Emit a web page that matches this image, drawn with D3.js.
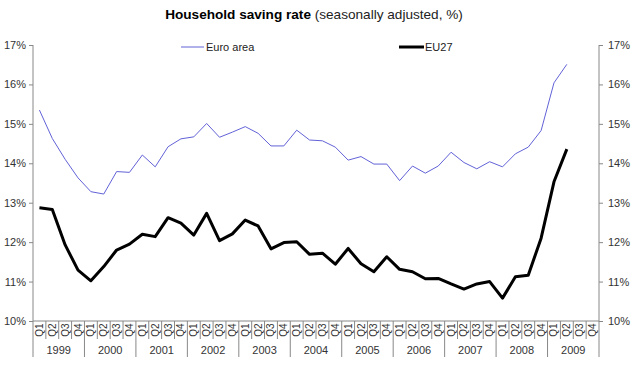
<!DOCTYPE html>
<html>
<head>
<meta charset="utf-8">
<script src="https://cdn.jsdelivr.net/npm/d3@7"></script>
<style>
  body { margin: 0; background: #fff; }
  svg { font-family: "Liberation Sans", Arial, sans-serif; }
</style>
</head>
<body>
<svg width="640" height="369"></svg>
<script>
// data
const years = ["1999","2000","2001","2002","2003","2004","2005","2006","2007","2008","2009"];
const quarters = ["Q1","Q2","Q3","Q4"];
const euroArea = [15.35,14.63,14.1,13.63, 13.28,13.22,13.79,13.77, 14.21,13.91,14.42,14.62,
  14.67,15.01,14.66,14.79, 14.93,14.76,14.44,14.44, 14.84,14.59,14.57,14.41,
  14.08,14.17,13.98,13.98, 13.56,13.93,13.75,13.93, 14.28,14.02,13.86,14.04,
  13.91,14.24,14.41,14.83, 16.04,16.51];
const eu27 = [12.87,12.83,11.93,11.29, 11.02,11.38,11.80,11.95, 12.20,12.14,12.62,12.48,
  12.18,12.73,12.04,12.21, 12.56,12.41,11.83,11.99, 12.01,11.69,11.72,11.44,
  11.84,11.45,11.25,11.63, 11.31,11.25,11.07,11.08, 10.94,10.81,10.94,11.00,
  10.58,11.12,11.16,12.10, 13.53,14.36];
const yTicks = [10,11,12,13,14,15,16,17];

const svg = d3.select("svg");
const plotL = 33, plotR = 599, plotT = 45, plotB = 321;
const axisColor = "#888";

// categories
const cats = [];
years.forEach(yr => quarters.forEach(q => cats.push(yr + "-" + q)));

const x = d3.scaleBand().domain(cats).range([plotL, plotR]);
const y = d3.scaleLinear().domain([10, 17]).range([plotB, plotT]);

// title
const title = svg.append("text")
  .attr("x", 314).attr("y", 19)
  .attr("text-anchor", "middle")
  .attr("font-size", "13.6px")
  .attr("fill", "#000");
title.append("tspan").attr("font-weight", "bold").text("Household saving rate");
title.append("tspan").attr("fill", "#222").text(" (seasonally adjusted, %)");

// y axes
const yLeft = d3.axisLeft(y).tickValues(yTicks).tickSize(4).tickPadding(3)
  .tickFormat(d => d + "%");
const yRight = d3.axisRight(y).tickValues(yTicks).tickSize(4).tickPadding(5)
  .tickFormat(d => d + "%");

function styleAxis(g) {
  g.select(".domain").remove();
  g.selectAll("line").attr("stroke", axisColor);
  g.selectAll("text").attr("font-size", "11px").attr("fill", "#333")
    .attr("font-family", "Liberation Sans, Arial, sans-serif");
}

svg.append("g").attr("transform", `translate(${plotL},0)`).call(yLeft).call(styleAxis);
svg.append("g").attr("transform", `translate(${plotR},0)`).call(yRight).call(styleAxis);

// axis lines
svg.append("line").attr("x1", plotL).attr("x2", plotL).attr("y1", plotT).attr("y2", 357)
  .attr("stroke", axisColor);
svg.append("line").attr("x1", plotR).attr("x2", plotR).attr("y1", plotT).attr("y2", 357)
  .attr("stroke", axisColor);
svg.append("line").attr("x1", plotL).attr("x2", plotR).attr("y1", plotB).attr("y2", plotB)
  .attr("stroke", axisColor);

// quarter separators and labels
const xg = svg.append("g");
cats.forEach((c, i) => {
  const x0 = x(c);
  if (i > 0) {
    const isYear = i % 4 === 0;
    xg.append("line").attr("x1", x0).attr("x2", x0)
      .attr("y1", plotB).attr("y2", isYear ? 357 : 339)
      .attr("stroke", axisColor);
  }
  const cx = x0 + x.bandwidth() / 2;
  xg.append("text")
    .attr("transform", `translate(${cx + 3.5},330) rotate(-90)`)
    .attr("text-anchor", "middle")
    .attr("font-size", "10px")
    .attr("fill", "#333")
    .text(c.split("-")[1]);
});
years.forEach(yr => {
  const x0 = x(yr + "-Q1"), x1 = x(yr + "-Q4") + x.bandwidth();
  xg.append("text")
    .attr("x", (x0 + x1) / 2).attr("y", 354)
    .attr("text-anchor", "middle")
    .attr("font-size", "11px")
    .attr("fill", "#333")
    .text(yr);
});

// lines
const line = d3.line()
  .x((d, i) => x(cats[i]) + x.bandwidth() / 2)
  .y(d => y(d));

svg.append("path").datum(euroArea)
  .attr("d", line)
  .attr("fill", "none")
  .attr("stroke", "#6262d8")
  .attr("stroke-width", 1);

svg.append("path").datum(eu27)
  .attr("d", line)
  .attr("fill", "none")
  .attr("stroke", "#000")
  .attr("stroke-width", 3)
  .attr("stroke-linejoin", "round");

// legend
const legend = svg.append("g").attr("font-size", "11px").attr("fill", "#222");
legend.append("line").attr("x1", 181).attr("x2", 204).attr("y1", 47).attr("y2", 47)
  .attr("stroke", "#6262d8").attr("stroke-width", 1);
legend.append("text").attr("x", 206).attr("y", 51).text("Euro area");
legend.append("line").attr("x1", 399).attr("x2", 424).attr("y1", 47).attr("y2", 47)
  .attr("stroke", "#000").attr("stroke-width", 3);
legend.append("text").attr("x", 425).attr("y", 51).text("EU27");
</script>
</body>
</html>
